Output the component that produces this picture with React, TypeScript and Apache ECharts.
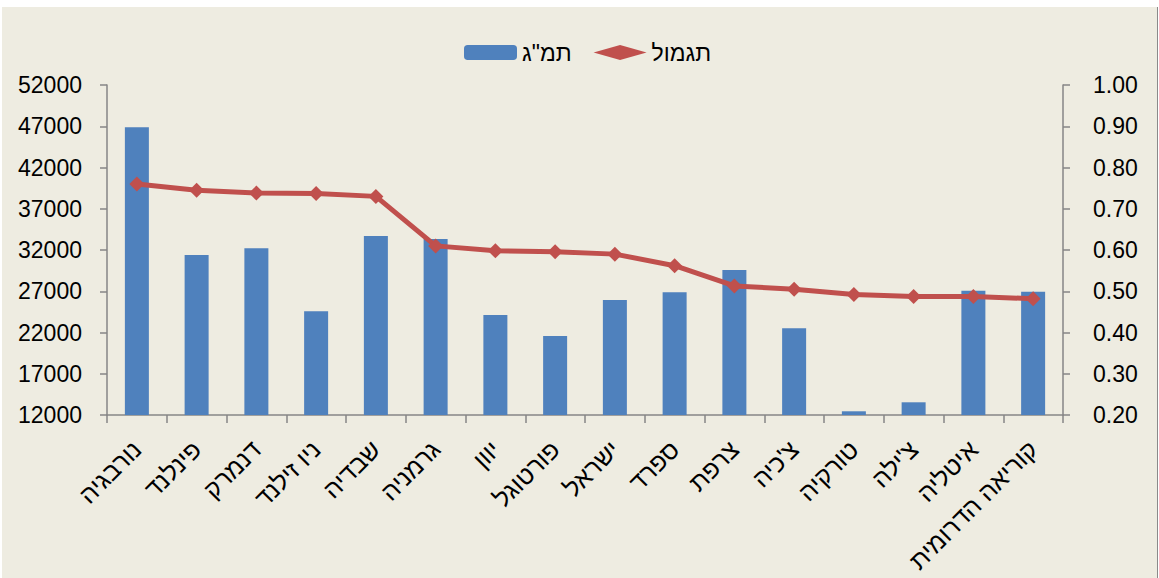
import React, { useEffect, useRef } from "react";
import * as echarts from "echarts";

const categories = [
  "נורבגיה",
  "פינלנד",
  "דנמרק",
  "ניו זילנד",
  "שבדיה",
  "גרמניה",
  "יוון",
  "פורטוגל",
  "ישראל",
  "ספרד",
  "צרפת",
  "צ'כיה",
  "טורקיה",
  "צ'ילה",
  "איטליה",
  "קוריאה הדרומית",
];

const gdpValues = [
  46870, 31390, 32210, 24570, 33700, 33330, 24120, 21580, 25940, 26870, 29580,
  22510, 12450, 13540, 27070, 26950,
];

const rewardValues = [
  0.76, 0.745, 0.738, 0.737, 0.73, 0.61, 0.598, 0.596, 0.59, 0.562, 0.513,
  0.505, 0.492, 0.487, 0.487, 0.482,
];

const leftTicks = [12000, 17000, 22000, 27000, 32000, 37000, 42000, 47000, 52000];
const rightTicks = [0.2, 0.3, 0.4, 0.5, 0.6, 0.7, 0.8, 0.9, 1.0];

const barName = 'תמ"ג';
const lineName = "תגמול";

const FONT = "'Liberation Sans', 'DejaVu Sans', Arial, sans-serif";
const BAR_COLOR = "#4F81BD";
const LINE_COLOR = "#C0504D";

export default function App() {
  const ref = useRef<HTMLDivElement>(null);

  useEffect(() => {
    if (!ref.current) return;
    const chart = echarts.init(ref.current, null, { renderer: "svg" });
    const axisColor = "#868686";
    chart.setOption({
      animation: false,
      backgroundColor: "#EEECE1",
      textStyle: { fontFamily: FONT },
      legend: {
        left: 457,
        top: 29,
        itemWidth: 53,
        itemHeight: 15,
        itemGap: 22,
        textStyle: { fontSize: 23, color: "#000", fontFamily: FONT },
        data: [
          { name: barName, itemStyle: { color: BAR_COLOR } },
          {
            name: lineName,
            icon: "diamond",
            lineStyle: { color: LINE_COLOR, width: 5 },
            itemStyle: { color: LINE_COLOR },
          },
        ],
      },
      grid: {
        left: 105,
        top: 78,
        right: 94,
        bottom: 163,
        containLabel: false,
        outerBoundsMode: "none",
      },
      xAxis: {
        type: "category",
        data: categories,
        boundaryGap: true,
        axisLine: { show: true, lineStyle: { color: axisColor, width: 1.5 } },
        axisTick: {
          show: true,
          length: 8,
          lineStyle: { color: axisColor, width: 1.5 },
          interval: 0,
        },
        axisLabel: {
          interval: 0,
          rotate: 45,
          margin: 30,
          align: "right",
          verticalAlign: "middle",
          color: "#000",
          fontSize: 25,
          fontFamily: FONT,
        },
        splitLine: { show: false },
      },
      yAxis: [
        {
          type: "value",
          min: 12000,
          max: 52000,
          interval: 5000,
          position: "left",
          axisLine: { show: true, lineStyle: { color: axisColor, width: 1.5 } },
          axisTick: {
            show: true,
            length: 7,
            lineStyle: { color: axisColor, width: 1.5 },
            customValues: leftTicks,
          },
          axisLabel: {
            margin: 25,
            color: "#000",
            fontSize: 23,
            fontFamily: FONT,
            customValues: leftTicks,
            formatter: (v: number) => String(v),
          },
          splitLine: { show: false },
        },
        {
          type: "value",
          min: 0.2,
          max: 1.0,
          interval: 0.1,
          position: "right",
          axisLine: { show: true, lineStyle: { color: axisColor, width: 1.5 } },
          axisTick: {
            show: true,
            length: 7,
            lineStyle: { color: axisColor, width: 1.5 },
            customValues: rightTicks,
          },
          axisLabel: {
            margin: 30,
            color: "#000",
            fontSize: 23,
            fontFamily: FONT,
            customValues: rightTicks,
            formatter: (v: number) => v.toFixed(2),
          },
          splitLine: { show: false },
        },
      ],
      series: [
        {
          name: barName,
          type: "bar",
          data: gdpValues,
          yAxisIndex: 0,
          barWidth: 24,
          itemStyle: { color: BAR_COLOR },
        },
        {
          name: lineName,
          type: "line",
          data: rewardValues,
          yAxisIndex: 1,
          symbol: "diamond",
          symbolSize: 15,
          lineStyle: { color: LINE_COLOR, width: 5 },
          itemStyle: { color: LINE_COLOR },
        },
      ],
    });
    return () => chart.dispose();
  }, []);

  return (
    <div
      style={{
        position: "fixed",
        left: 0,
        top: 0,
        width: 1159,
        height: 578,
        background: "#ffffff",
        overflow: "hidden",
      }}
    >
      <div
        style={{
          position: "absolute",
          left: 2,
          top: 7,
          width: 1155,
          height: 571,
          borderRight: "1.5px solid #8a8a8a",
        }}
      >
        <div ref={ref} style={{ width: 1155, height: 571 }} />
      </div>
    </div>
  );
}
